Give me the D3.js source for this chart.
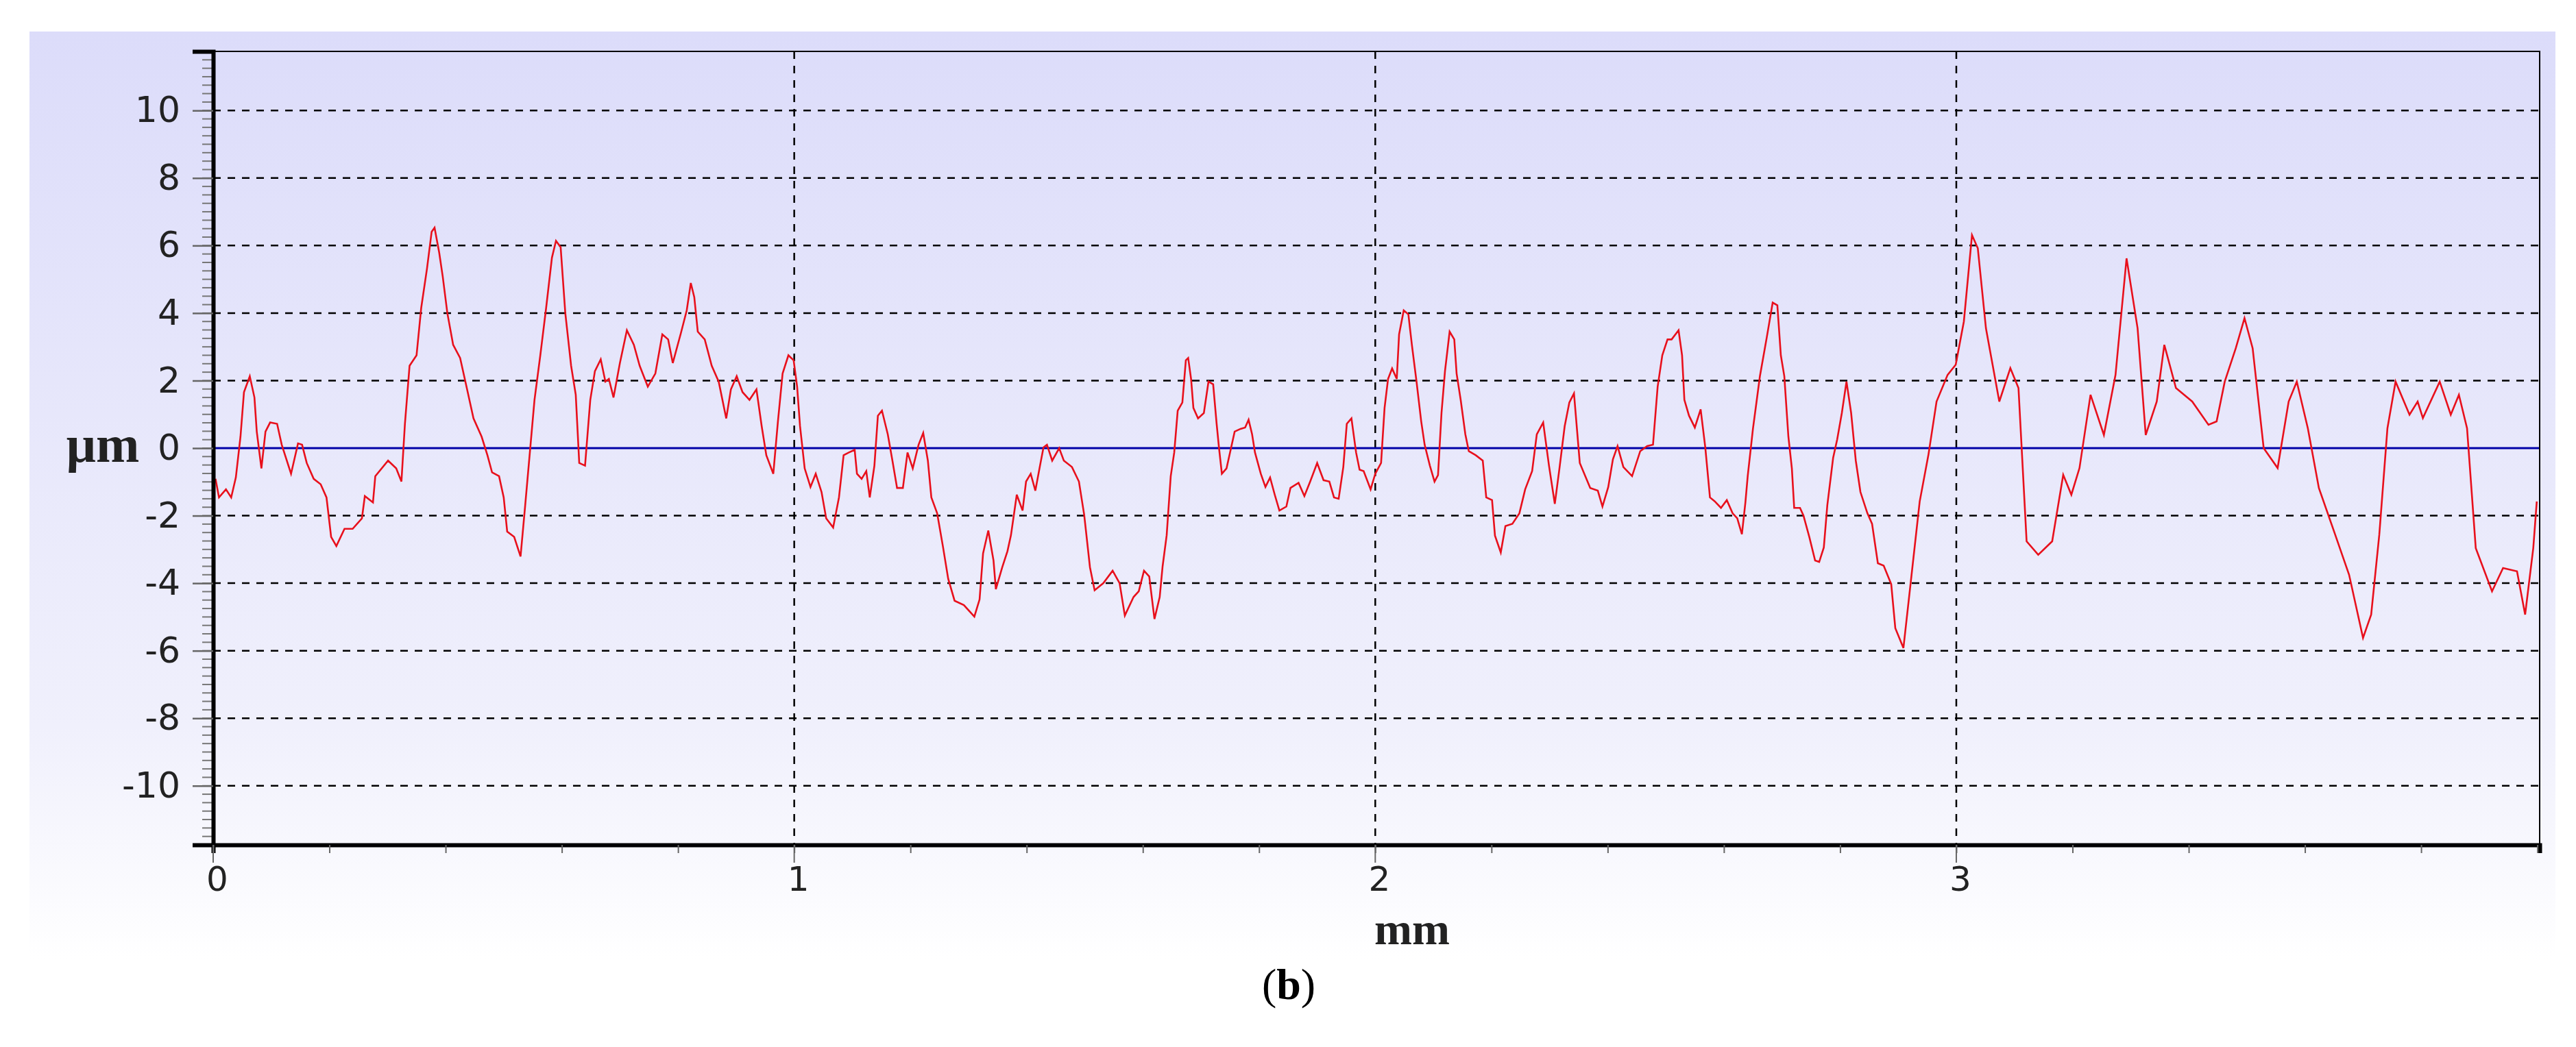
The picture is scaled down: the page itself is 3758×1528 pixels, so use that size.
<!DOCTYPE html>
<html>
<head>
<meta charset="utf-8">
<script src="https://cdn.jsdelivr.net/npm/d3@7"></script>
<style>
  body { margin: 0; background: #fff; }
  svg { display: block; }
</style>
</head>
<body>
<script>
// profile position (mm) and height (µm)
const xs = [
  0.004, 0.01, 0.022, 0.031, 0.039, 0.047, 0.053, 0.063, 0.071, 0.075, 0.083, 0.09, 0.098, 0.11, 0.118, 0.134,
  0.146, 0.153, 0.161, 0.173, 0.185, 0.195, 0.203, 0.212, 0.226, 0.24, 0.256, 0.261, 0.275, 0.279, 0.301, 0.315,
  0.324, 0.33, 0.338, 0.35, 0.358, 0.368, 0.376, 0.381, 0.389, 0.395, 0.403, 0.413, 0.425, 0.437, 0.448, 0.462,
  0.472, 0.48, 0.492, 0.5, 0.506, 0.518, 0.529, 0.537, 0.545, 0.553, 0.563, 0.573, 0.583, 0.59, 0.598, 0.606,
  0.616, 0.624, 0.63, 0.64, 0.649, 0.657, 0.667, 0.675, 0.681, 0.689, 0.7, 0.712, 0.724, 0.734, 0.748, 0.761,
  0.773, 0.783, 0.791, 0.805, 0.815, 0.822, 0.828, 0.834, 0.846, 0.858, 0.87, 0.883, 0.891, 0.901, 0.911, 0.923,
  0.935, 0.944, 0.952, 0.964, 0.972, 0.98, 0.99, 0.999, 1.005, 1.01, 1.018, 1.028, 1.037, 1.047, 1.055, 1.067,
  1.077, 1.085, 1.094, 1.104, 1.108, 1.116, 1.124, 1.13, 1.138, 1.144, 1.151, 1.161, 1.169, 1.177, 1.187, 1.195,
  1.204, 1.214, 1.222, 1.23, 1.236, 1.246, 1.256, 1.265, 1.276, 1.292, 1.31, 1.319, 1.325, 1.334, 1.343, 1.347,
  1.358, 1.367, 1.373, 1.383, 1.393, 1.399, 1.407, 1.415, 1.423, 1.429, 1.435, 1.444, 1.456, 1.464, 1.478, 1.49,
  1.499, 1.509, 1.517, 1.532, 1.548, 1.56, 1.569, 1.584, 1.593, 1.602, 1.611, 1.62, 1.629, 1.634, 1.641, 1.648,
  1.654, 1.66, 1.668, 1.674, 1.678, 1.683, 1.687, 1.695, 1.705, 1.713, 1.721, 1.727, 1.731, 1.736, 1.744, 1.752,
  1.758, 1.768, 1.776, 1.782, 1.788, 1.793, 1.803, 1.811, 1.819, 1.827, 1.835, 1.847, 1.854, 1.868, 1.878, 1.888,
  1.9, 1.911, 1.921, 1.929, 1.937, 1.945, 1.951, 1.959, 1.967, 1.973, 1.98, 1.992, 2.0, 2.01, 2.016, 2.022,
  2.029, 2.037, 2.041, 2.049, 2.057, 2.063, 2.071, 2.079, 2.085, 2.094, 2.102, 2.108, 2.114, 2.12, 2.128, 2.136,
  2.14, 2.147, 2.155, 2.161, 2.173, 2.185, 2.191, 2.201, 2.206, 2.216, 2.224, 2.236, 2.248, 2.258, 2.27, 2.278,
  2.289, 2.299, 2.309, 2.317, 2.326, 2.334, 2.342, 2.352, 2.37, 2.383, 2.391, 2.401, 2.409, 2.417, 2.427, 2.442,
  2.456, 2.468, 2.478, 2.486, 2.494, 2.503, 2.51, 2.522, 2.528, 2.532, 2.54, 2.55, 2.56, 2.568, 2.576, 2.584,
  2.595, 2.605, 2.615, 2.623, 2.631, 2.637, 2.641, 2.65, 2.656, 2.662, 2.674, 2.684, 2.692, 2.698, 2.704, 2.711,
  2.717, 2.721, 2.731, 2.737, 2.747, 2.757, 2.764, 2.772, 2.778, 2.788, 2.795, 2.803, 2.811, 2.819, 2.827, 2.835,
  2.847, 2.855, 2.865, 2.875, 2.888, 2.895, 2.909, 2.923, 2.937, 2.952, 2.966, 2.985, 2.999, 3.013, 3.027, 3.037,
  3.051, 3.074, 3.093, 3.107, 3.121, 3.141, 3.165, 3.184, 3.198, 3.212, 3.231, 3.254, 3.274, 3.293, 3.312, 3.326,
  3.345, 3.358, 3.378, 3.406, 3.434, 3.448, 3.462, 3.481, 3.496, 3.51, 3.529, 3.553, 3.572, 3.586, 3.605, 3.624,
  3.652, 3.676, 3.7, 3.714, 3.728, 3.742, 3.756, 3.78, 3.794, 3.803, 3.832, 3.851, 3.865, 3.879, 3.894, 3.922,
  3.941, 3.965, 3.979, 3.993, 3.999
]
const zs = [
  -0.91, -1.46, -1.22, -1.46, -0.87, 0.34, 1.66, 2.13, 1.5, 0.49, -0.6, 0.49, 0.76, 0.72, 0.1, -0.76,
  0.14, 0.1, -0.44, -0.91, -1.07, -1.46, -2.63, -2.9, -2.39, -2.39, -2.08, -1.42, -1.61, -0.83, -0.37, -0.6,
  -0.99, 0.72, 2.44, 2.75, 4.15, 5.32, 6.41, 6.53, 5.79, 5.09, 4.0, 3.06, 2.67, 1.74, 0.88, 0.34,
  -0.21, -0.72, -0.83, -1.46, -2.47, -2.63, -3.21, -1.69, -0.13, 1.43, 2.75, 4.15, 5.64, 6.14, 5.95, 4.0,
  2.44, 1.58, -0.44, -0.52, 1.43, 2.28, 2.63, 1.97, 2.05, 1.5, 2.52, 3.49, 3.06, 2.44, 1.82, 2.21,
  3.37, 3.22, 2.52, 3.41, 4.08, 4.89, 4.47, 3.45, 3.22, 2.44, 1.97, 0.88, 1.74, 2.13, 1.66, 1.43,
  1.74, 0.65, -0.21, -0.76, 0.8, 2.21, 2.75, 2.6, 1.82, 0.65, -0.6, -1.15, -0.76, -1.3, -2.08, -2.35,
  -1.46, -0.21, -0.13, -0.05, -0.76, -0.91, -0.68, -1.46, -0.52, 0.96, 1.11, 0.41, -0.37, -1.18, -1.18, -0.13,
  -0.6, 0.1, 0.45, -0.37, -1.46, -1.93, -2.92, -3.87, -4.52, -4.65, -4.99, -4.48, -3.12, -2.44, -3.33, -4.18,
  -3.53, -3.05, -2.58, -1.38, -1.85, -0.99, -0.76, -1.26, -0.52, 0.02, 0.1, -0.37, 0.0, -0.37, -0.56, -0.99,
  -1.97, -3.53, -4.21, -4.0, -3.63, -4.0, -4.96, -4.41, -4.24, -3.63, -3.8, -5.06, -4.41, -3.5, -2.58, -0.83,
  -0.13, 1.11, 1.35, 2.6, 2.67, 2.05, 1.19, 0.88, 1.04, 1.97, 1.89, 0.72, 0.02, -0.76, -0.6, 0.02,
  0.49, 0.57, 0.61, 0.84, 0.41, -0.13, -0.76, -1.15, -0.87, -1.38, -1.85, -1.73, -1.18, -1.03, -1.42, -0.99,
  -0.44, -0.95, -0.99, -1.46, -1.5, -0.56, 0.72, 0.88, -0.13, -0.64, -0.68, -1.22, -0.76, -0.44, 1.19, 2.05,
  2.36, 2.05, 3.37, 4.08, 3.96, 3.06, 1.97, 0.8, 0.1, -0.52, -0.99, -0.8, 1.04, 2.28, 3.45, 3.22,
  2.21, 1.43, 0.41, -0.09, -0.21, -0.37, -1.46, -1.54, -2.59, -3.09, -2.31, -2.24, -1.93, -1.22, -0.68, 0.41,
  0.76, -0.52, -1.65, -0.6, 0.65, 1.35, 1.62, -0.44, -1.18, -1.26, -1.73, -1.15, -0.33, 0.06, -0.56, -0.83,
  -0.09, 0.06, 0.1, 1.82, 2.75, 3.22, 3.22, 3.49, 2.75, 1.43, 0.96, 0.61, 1.15, 0.02, -1.46, -1.57,
  -1.77, -1.54, -1.93, -2.08, -2.55, -1.61, -0.83, 0.57, 1.35, 2.13, 3.3, 4.31, 4.23, 2.75, 2.13, 0.34,
  -0.6, -1.77, -1.77, -2.0, -2.63, -3.33, -3.37, -2.94, -1.69, -0.29, 0.26, 1.04, 1.97, 1.04, -0.37, -1.3,
  -1.93, -2.24, -3.41, -3.48, -4.03, -5.33, -5.92, -3.75, -1.58, -0.2, 1.38, 2.17, 2.47, 3.75, 6.31, 5.92,
  3.55, 1.38, 2.37, 1.78, -2.76, -3.16, -2.76, -0.79, -1.38, -0.59, 1.58, 0.39, 2.17, 5.62, 3.55, 0.39,
  1.38, 3.06, 1.78, 1.38, 0.69, 0.79, 1.97, 2.96, 3.85, 2.96, 0.0, -0.59, 1.38, 1.97, 0.59, -1.18,
  -2.56, -3.75, -5.62, -4.93, -2.56, 0.59, 1.97, 0.99, 1.38, 0.89, 1.97, 0.99, 1.58, 0.59, -2.96, -4.24,
  -3.55, -3.65, -4.93, -2.96, -1.58
]
const yTicks = [-10, -8, -6, -4, -2, 0, 2, 4, 6, 8, 10]
const xTicks = [0, 1, 2, 3]

const W = 3758, H = 1528
const m = { left: 311, right: W - 3705, top: 75, bottom: H - 1233 }
const pw = W - m.left - m.right
const ph = H - m.top - m.bottom

const x = d3.scaleLinear().domain([0, 4.004]).range([m.left, m.left + pw])
const y = d3.scaleLinear().domain([-11.75, 11.75]).range([m.top + ph, m.top])

const svg = d3.select('body').append('svg').attr('width', W).attr('height', H)

const defs = svg.append('defs')
const bg = defs.append('linearGradient').attr('id', 'bg').attr('x1', 0).attr('x2', 0).attr('y1', 0).attr('y2', 1)
bg.append('stop').attr('offset', '0%').attr('stop-color', '#dcdcfa')
bg.append('stop').attr('offset', '75%').attr('stop-color', '#f0f0fc')
bg.append('stop').attr('offset', '100%').attr('stop-color', '#ffffff')

// background panel
svg.append('rect').attr('x', 43).attr('y', 46).attr('width', 3728 - 43).attr('height', 1400 - 46).attr('fill', 'url(#bg)')

// grid
const grid = svg.append('g').attr('stroke', '#000').attr('stroke-width', 2.5).attr('stroke-dasharray', '11,10')
grid.selectAll('.hg').data(yTicks.filter((d) => d !== 0)).join('line')
  .attr('x1', m.left).attr('x2', m.left + pw).attr('y1', (d) => y(d)).attr('y2', (d) => y(d))
grid.selectAll('.vg').data(xTicks.filter((d) => d !== 0)).join('line')
  .attr('x1', (d) => x(d)).attr('x2', (d) => x(d)).attr('y1', m.top).attr('y2', m.top + ph)

// zero line
svg.append('line').attr('x1', m.left).attr('x2', m.left + pw).attr('y1', y(0)).attr('y2', y(0))
  .attr('stroke', '#0000a8').attr('stroke-width', 3)

// profile
const pts = xs.map((d, i) => [d, zs[i]])
svg.append('path').datum(pts)
  .attr('fill', 'none').attr('stroke', '#e8101c').attr('stroke-width', 2.6)
  .attr('d', d3.line().x((d) => x(d[0])).y((d) => y(d[1])))

// frame
svg.append('rect').attr('x', m.left).attr('y', m.top).attr('width', pw).attr('height', ph)
  .attr('fill', 'none').attr('stroke', '#000').attr('stroke-width', 2)

// y axis
const yMinor = d3.range(-11.5, 11.76, 0.25)
svg.append('g').selectAll('line').data(yMinor).join('line')
  .attr('x1', m.left).attr('x2', m.left - 16).attr('y1', (d) => y(d)).attr('y2', (d) => y(d))
  .attr('stroke', '#777').attr('stroke-width', 2)
const yAxis = svg.append('g').attr('transform', `translate(${m.left},0)`)
  .call(d3.axisLeft(y).tickValues(yTicks).tickSize(30).tickPadding(18).tickFormat((d) => String(d)))
yAxis.select('.domain').attr('stroke-width', 6)
yAxis.selectAll('.tick line').attr('stroke', '#666').attr('stroke-width', 2.5)
yAxis.selectAll('text').attr('font-family', 'DejaVu Sans, sans-serif').attr('font-size', 52).attr('fill', '#222')

// x axis
const xAxis = svg.append('g').attr('transform', `translate(0,${m.top + ph})`)
  .call(d3.axisBottom(x).tickValues(d3.range(0, 4.01, 0.2)).tickSize(12).tickFormat(() => ''))
xAxis.select('.domain').attr('stroke-width', 6)
xAxis.selectAll('.tick line').attr('stroke', '#666').attr('stroke-width', 2)
svg.append('g').selectAll('line').data(xTicks).join('line')
  .attr('x1', (d) => x(d)).attr('x2', (d) => x(d)).attr('y1', m.top + ph).attr('y2', m.top + ph + 26)
  .attr('stroke', '#666').attr('stroke-width', 2)
svg.append('g').selectAll('text').data(xTicks).join('text')
  .attr('x', (d) => x(d) + 6).attr('y', 1300).attr('text-anchor', 'middle')
  .attr('font-family', 'DejaVu Sans, sans-serif').attr('font-size', 50).attr('fill', '#222')
  .text((d) => d)

// axis titles
svg.append('text').attr('x', 150).attr('y', 674).attr('text-anchor', 'middle')
  .attr('font-family', 'Liberation Serif, serif').attr('font-size', 76).attr('font-weight', 'bold').attr('fill', '#222')
  .text('μm')
svg.append('text').attr('x', 2060).attr('y', 1378).attr('text-anchor', 'middle')
  .attr('font-family', 'Liberation Serif, serif').attr('font-size', 66).attr('font-weight', 'bold').attr('fill', '#222')
  .text('mm')

// caption
const cap = svg.append('text').attr('x', 1880).attr('y', 1458).attr('text-anchor', 'middle')
  .attr('font-family', 'Liberation Serif, serif').attr('font-size', 64).attr('fill', '#000')
cap.append('tspan').text('(')
cap.append('tspan').attr('font-weight', 'bold').text('b')
cap.append('tspan').text(')')
</script>
</body>
</html>
